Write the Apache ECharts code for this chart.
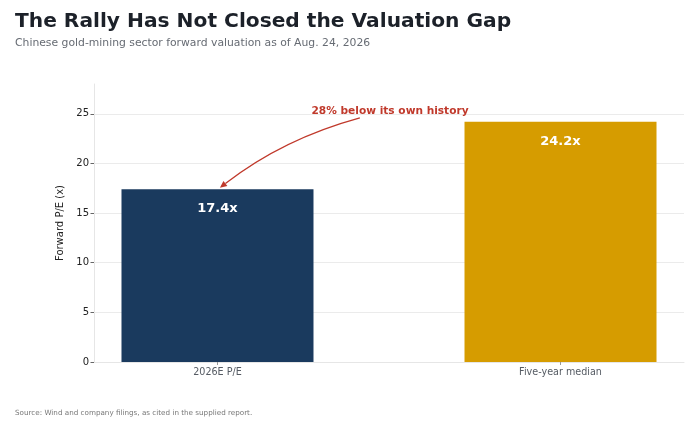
<!DOCTYPE html>
<html>
<head>
<meta charset="utf-8">
<script src="https://cdn.jsdelivr.net/npm/echarts@6/dist/echarts.min.js"></script>
<style>
  html, body { margin: 0; padding: 0; background: #fff; }
  #chart { width: 700px; height: 434px; }
</style>
</head>
<body>
<div id="chart"></div>
<script>
// categories and values
const categories = ['2026E P/E', 'Five-year median'];
const peValues = [17.4, 24.2];
const barColors = ['#1a3a5e', '#d69c00'];
const yTicks = [0, 5, 10, 15, 20, 25];
const noteText = '28% below its own history';
const notePos = [0.503, 25.3];
// arrow from under the note down to the top of the first bar (data coords)
const arrowFrom = [0.415, 24.6];
const arrowTo = [0.007, 17.55];

const FONT = 'DejaVu Sans';
const RED = '#c0392b';

const chart = echarts.init(document.getElementById('chart'), null, { renderer: 'canvas' });

chart.setOption({
  animation: false,
  textStyle: { fontFamily: FONT },
  title: [
    {
      text: 'The Rally Has Not Closed the Valuation Gap',
      left: 15, top: 12, padding: 0,
      textStyle: { fontFamily: FONT, fontSize: 20.2, fontWeight: 'bold', color: '#1c2129' }
    },
    {
      text: 'Chinese gold-mining sector forward valuation as of Aug. 24, 2026',
      left: 15, top: 38, padding: 0,
      textStyle: { fontFamily: FONT, fontSize: 10.8, fontWeight: 'normal', color: '#666b73' }
    },
    {
      text: 'Source: Wind and company filings, as cited in the supplied report.',
      left: 15, top: 410, padding: 0,
      textStyle: { fontFamily: FONT, fontSize: 7.2, fontWeight: 'normal', color: '#777' }
    }
  ],
  grid: { left: 94, right: 16, top: 84, bottom: 72 },
  xAxis: {
    type: 'value',
    min: -0.36, max: 1.36,
    splitLine: { show: false },
    axisLine: { show: true, onZero: false, lineStyle: { color: '#e6e6e6' } },
    axisTick: { show: true, customValues: [0, 1], length: 3, lineStyle: { color: '#999' } },
    axisLabel: {
      customValues: [0, 1],
      formatter: v => categories[Math.round(v)],
      fontSize: 9.6, color: '#555b63', margin: 5
    }
  },
  yAxis: {
    type: 'value',
    min: 0, max: 28,
    name: 'Forward P/E (x)',
    nameLocation: 'middle',
    nameGap: 24,
    nameTextStyle: { fontSize: 10, color: '#222' },
    splitLine: { show: false },
    axisLine: { show: true, onZero: false, lineStyle: { color: '#e6e6e6' } },
    axisTick: { show: true, customValues: yTicks, length: 3.5, lineStyle: { color: '#666' } },
    axisLabel: { customValues: yTicks, fontSize: 10, color: '#222', margin: 5 }
  },
  series: [
    {
      type: 'bar',
      z: 3,
      barWidth: 192,
      data: peValues.map((v, i) => ({
        value: [i, v],
        itemStyle: { color: barColors[i] }
      })),
      label: {
        show: true,
        position: 'insideTop',
        distance: 13,
        formatter: p => p.value[1].toFixed(1) + 'x',
        color: '#fff',
        fontSize: 13,
        fontWeight: 'bold'
      },
      markLine: {
        silent: true,
        z: 1,
        symbol: 'none',
        label: { show: false },
        lineStyle: { color: '#ebebeb', width: 1, type: 'solid' },
        data: yTicks.slice(1).map(t => ({ yAxis: t }))
      }
    },
    {
      // note text above the arrow
      type: 'line',
      data: [],
      z: 5,
      markPoint: {
        silent: true,
        symbol: 'circle',
        symbolSize: 0,
        label: {
          show: true,
          position: 'inside',
          formatter: noteText,
          color: RED,
          fontSize: 10.6,
          fontWeight: 'bold'
        },
        data: [{ coord: notePos }]
      }
    }
  ]
});

// curved arrow, placed through the grid's own coordinate conversion
const p0 = chart.convertToPixel({ gridIndex: 0 }, arrowFrom);
const p2 = chart.convertToPixel({ gridIndex: 0 }, arrowTo);
const dx = p2[0] - p0[0], dy = p2[1] - p0[1];
const rad = 0.1;
const cp = [(p0[0] + p2[0]) / 2 - rad * dy, (p0[1] + p2[1]) / 2 + rad * dx];
// tangent at the tip
let tx = p2[0] - cp[0], ty = p2[1] - cp[1];
const tl = Math.hypot(tx, ty); tx /= tl; ty /= tl;
const headLen = 7, headW = 3.2;
const base = [p2[0] - tx * headLen, p2[1] - ty * headLen];
chart.setOption({
  graphic: [
    {
      type: 'bezierCurve',
      z: 10,
      silent: true,
      shape: { x1: p0[0], y1: p0[1], x2: base[0], y2: base[1], cpx1: cp[0], cpy1: cp[1] },
      style: { stroke: RED, lineWidth: 1.3, fill: null }
    },
    {
      type: 'polygon',
      z: 10,
      silent: true,
      shape: {
        points: [
          p2,
          [base[0] - ty * headW, base[1] + tx * headW],
          [base[0] + ty * headW, base[1] - tx * headW]
        ]
      },
      style: { fill: RED }
    }
  ]
});
</script>
</body>
</html>
